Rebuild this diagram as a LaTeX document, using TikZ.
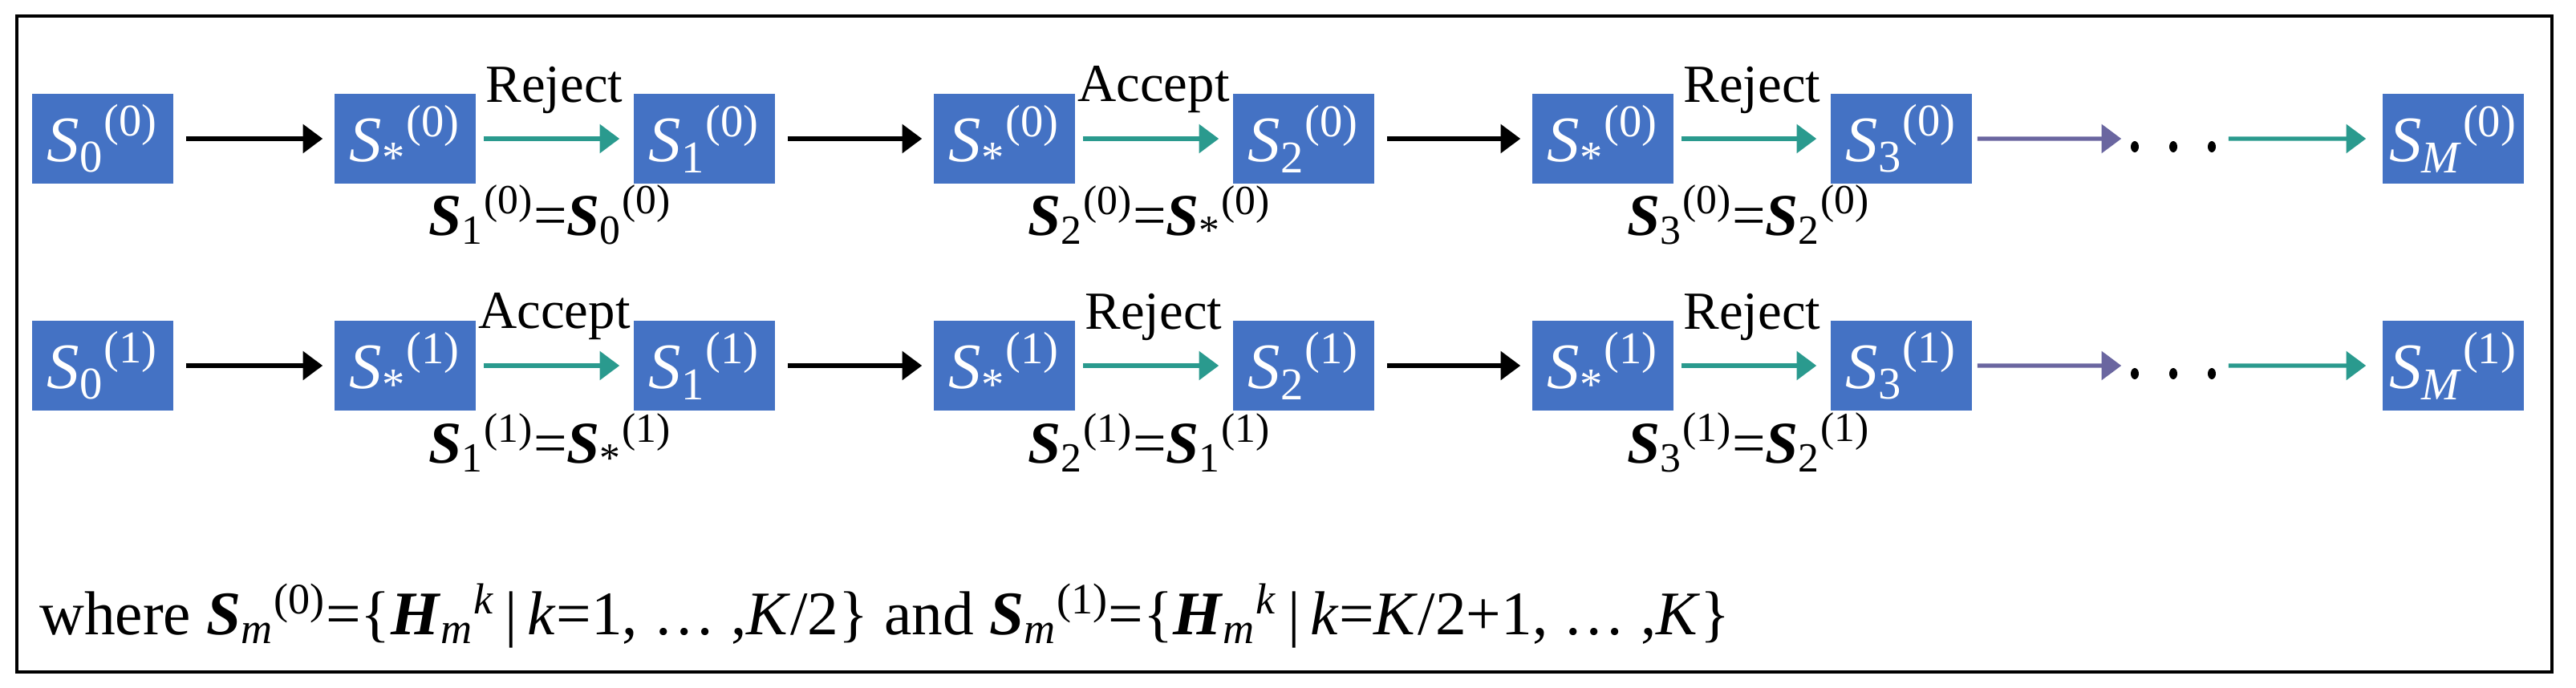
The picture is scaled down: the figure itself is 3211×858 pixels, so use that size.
\documentclass[tikz,border=0pt]{standalone}
\usepackage{fontspec}
\setmainfont{Liberation Serif}
\usetikzlibrary{arrows.meta}
\definecolor{bx}{HTML}{4472C4}
\definecolor{tl}{HTML}{2A9A8E}
\definecolor{pu}{HTML}{6A66A0}
\newcommand\bS{\textbf{\textit{S}}}
\newcommand\bH{\textbf{\textit{H}}}
\newcommand\mysb[1]{\textsubscript{\upshape #1}}
\newcommand\mysp[1]{\textsuperscript{\upshape #1}}
\begin{document}
\begin{tikzpicture}[x=0.01cm,y=-0.01cm,
  box/.style={fill=bx,text=white,minimum width=1.76cm,minimum height=1.12cm,inner sep=0pt,font=\fontsize{23}{26}\selectfont\itshape},
  lab/.style={font=\fontsize{19}{22}\selectfont,inner sep=1pt},
  eq/.style={lab,font=\fontsize{21}{24}\selectfont},
  ar/.style={line width=1.5pt,-{Triangle[length=7pt,width=10pt]}},
  ark/.style={ar,black},
  art/.style={ar,tl},
  arp/.style={ar,pu}]
\useasboundingbox (0,0) rectangle (3211,858);
\draw[line width=1.3pt] (21,20) rectangle (3181,838);
\foreach \r/\y in {0/173,1/456}{
  \node[box] (a\r) at (128,\y) {S\mysb{0}\mysp{(\r)}};
  \node[box] (b\r) at (505,\y) {S\mysb{*}\mysp{(\r)}};
  \node[box] (c\r) at (878,\y) {S\mysb{1}\mysp{(\r)}};
  \node[box] (d\r) at (1252,\y) {S\mysb{*}\mysp{(\r)}};
  \node[box] (e\r) at (1625,\y) {S\mysb{2}\mysp{(\r)}};
  \node[box] (f\r) at (1998,\y) {S\mysb{*}\mysp{(\r)}};
  \node[box] (g\r) at (2370,\y) {S\mysb{3}\mysp{(\r)}};
  \node[inner sep=0pt,minimum width=1.2cm,minimum height=0.3cm] (h\r) at (2709,\y+10) {};
  \foreach \dx in {-48,0,48} \fill (2709+\dx,\y+10) ellipse (5 and 7);
  \node[box] (m\r) at (3058,\y) {S\mysb{\textit{M}}\mysp{(\r)}};
  \draw[ark] ([xshift=0.15cm]a\r.east) -- ([xshift=-0.14cm]b\r.west);
  \draw[art] ([xshift=0.09cm]b\r.east) -- ([xshift=-0.17cm]c\r.west);
  \draw[ark] ([xshift=0.15cm]c\r.east) -- ([xshift=-0.14cm]d\r.west);
  \draw[art] ([xshift=0.09cm]d\r.east) -- ([xshift=-0.17cm]e\r.west);
  \draw[ark] ([xshift=0.15cm]e\r.east) -- ([xshift=-0.14cm]f\r.west);
  \draw[art] ([xshift=0.09cm]f\r.east) -- ([xshift=-0.17cm]g\r.west);
  \draw[arp] ([xshift=0.06cm]g\r.east) -- ([yshift=0.1cm,xshift=-0.04cm]h\r.west);
  \draw[art] ([yshift=0.1cm,xshift=0.08cm]h\r.east) -- ([xshift=-0.2cm]m\r.west);
}
\node[lab] at (691,112) {Reject};
\node[lab] at (1438,112) {Accept};
\node[lab] at (2184,112) {Reject};
\node[lab] at (691,395) {Accept};
\node[lab] at (1438,395) {Reject};
\node[lab] at (2184,395) {Reject};
\node[eq] at (686,268) {\bS\mysb{1}\mysp{(0)}=\bS\mysb{0}\mysp{(0)}};
\node[eq] at (1433,268) {\bS\mysb{2}\mysp{(0)}=\bS\mysb{*}\mysp{(0)}};
\node[eq] at (2180,268) {\bS\mysb{3}\mysp{(0)}=\bS\mysb{2}\mysp{(0)}};
\node[eq] at (686,552) {\bS\mysb{1}\mysp{(1)}=\bS\mysb{*}\mysp{(1)}};
\node[eq] at (1433,552) {\bS\mysb{2}\mysp{(1)}=\bS\mysb{1}\mysp{(1)}};
\node[eq] at (2180,552) {\bS\mysb{3}\mysp{(1)}=\bS\mysb{2}\mysp{(1)}};
\node[lab,anchor=west,font=\fontsize{22}{26}\selectfont] (w) at (45,768) {where \bS\mysb{\textit{m}}\mysp{(0)}=\{\bH\mysb{\textit{m}}\mysp{\textit{k}}\,|\,\textit{k}=1, … ,\textit{K}/2\} and \bS\mysb{\textit{m}}\mysp{(1)}=\{\bH\mysb{\textit{m}}\mysp{\textit{k}}\,|\,\textit{k}=\textit{K}/2+1, … ,\textit{K}\}};
\end{tikzpicture}
\end{document}
